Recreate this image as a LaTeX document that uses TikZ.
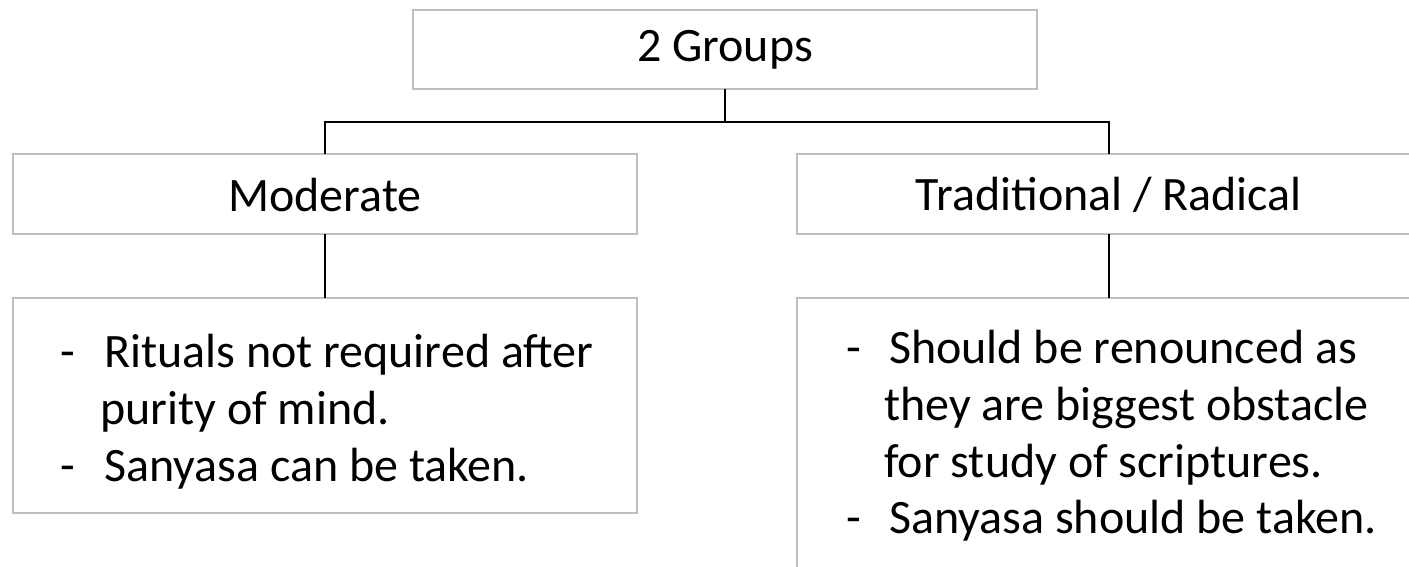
\documentclass[tikz,border=0pt]{standalone}
\usepackage{fontspec}
\setmainfont{Carlito}
\begin{document}
\begin{tikzpicture}[x=1pt,y=-1pt,
  box/.style={draw=black!25, line width=1.2pt, fill=white, inner sep=0pt, outer sep=0pt, minimum width=624pt},
  link/.style={draw=black, line width=1.5pt},
  txt/.style={inner sep=0pt, font=\fontsize{48}{57}\selectfont},
  ltxt/.style={txt, anchor=base west}]
\clip (0,0) rectangle (1409,567);
\fill[white] (0,0) rectangle (1409,567);
% boxes
\node[box, minimum height=79pt] (top) at (725,49.5) {};
\node[box, minimum height=80pt] (mod) at (325,194) {};
\node[box, minimum height=80pt] (trad) at (1109,194) {};
\node[box, minimum height=215pt] (lbox) at (325,405.5) {};
\node[box, minimum height=320pt] (rbox) at (1109,458) {};
% labels
\node[txt] (toplbl) at (725,50) {2 Groups};
\node[txt] (modlbl) at (325,195) {Moderate};
\node[txt] (tradlbl) at (1109,195) {Traditional / Radical};
% left list
\node[ltxt] (ld1) at (60,367) {-};
\node[ltxt] (l1) at (104,367) {Rituals not required after};
\node[ltxt] (l2) at (100,424) {purity of mind.};
\node[ltxt] (ld2) at (60,481) {-};
\node[ltxt] (l3) at (104,481) {Sanyasa can be taken.};
% right list
\node[ltxt] (rd1) at (846,363) {-};
\node[ltxt] (r1) at (889,363) {Should be renounced as};
\node[ltxt] (r2) at (884,420) {they are biggest obstacle};
\node[ltxt] (r3) at (884,477) {for study of scriptures.};
\node[ltxt] (rd2) at (846,533) {-};
\node[ltxt] (r4) at (889,533) {Sanyasa should be taken.};
% connectors
\coordinate (bus) at (725,122);
\draw[link] (top.south) -- (bus);
\draw[link] (mod.north) |- (bus) -| (trad.north);
\draw[link] (mod.south) -- (lbox.north);
\draw[link] (trad.south) -- (rbox.north);
\end{tikzpicture}
\end{document}
